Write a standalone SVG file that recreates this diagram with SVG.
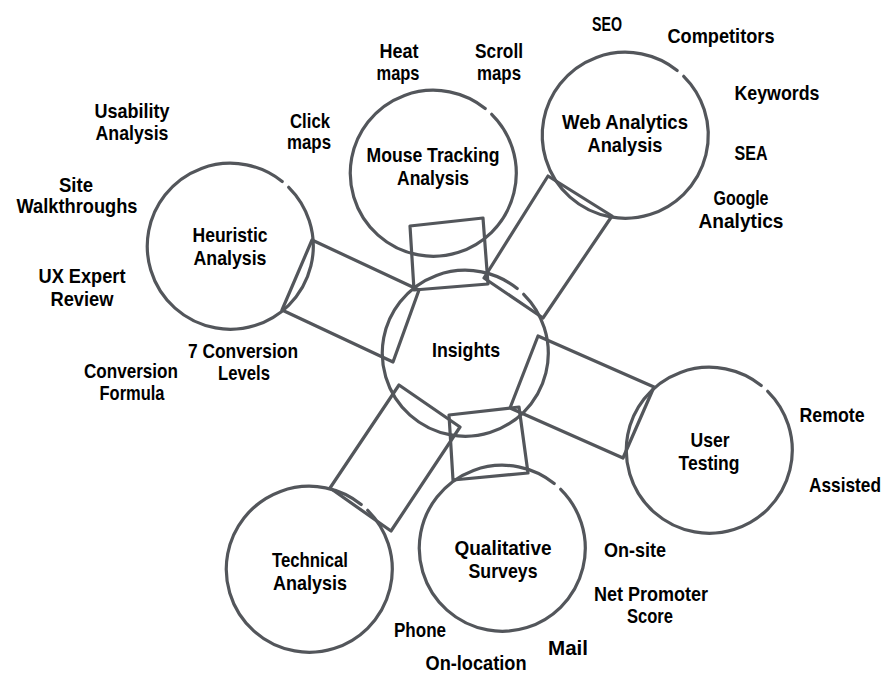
<svg xmlns="http://www.w3.org/2000/svg" xmlns:xlink="http://www.w3.org/1999/xlink" width="896" height="690" viewBox="0 0 896 690">
<style>
  .ring{fill:none;stroke:#53565b;stroke-width:3.2;stroke-linecap:round}
  .band{fill:none;stroke:#53565b;stroke-width:3.2;stroke-linejoin:round}
  text{font-family:"Liberation Sans",Arial,sans-serif;font-weight:bold;font-size:21px;fill:#000;text-anchor:middle}
</style>
<defs>
  <path id="ring" class="ring" d="M58.7,-58.7 A83,83 0 1 1 52.2,-64.5"/>
</defs>
<rect width="896" height="690" fill="#fff"/>
<g id="connectors">
  <polygon class="band" points="312,240 419,290 393,362 282,310"/>
  <polygon class="band" points="410,226 483,218 488,284 414,290"/>
  <polygon class="band" points="548,176 612,216 543,318 484,278"/>
  <polygon class="band" points="538,336 654,387 623,458 510,408"/>
  <polygon class="band" points="449,415 519,407 528,473 453,480"/>
  <polygon class="band" points="399,385 460,427 391,531 330,488"/>
</g>
<g id="insights"><use xlink:href="#ring" x="465" y="353"/><text x="466" y="357" textLength="68" lengthAdjust="spacingAndGlyphs">Insights</text></g>
<g id="heuristic"><use xlink:href="#ring" x="230" y="246"/><text x="230" y="242" textLength="75" lengthAdjust="spacingAndGlyphs">Heuristic</text><text x="230" y="265" textLength="73" lengthAdjust="spacingAndGlyphs">Analysis</text></g>
<g id="mouse-tracking"><use xlink:href="#ring" x="433" y="173"/><text x="433" y="162" textLength="133" lengthAdjust="spacingAndGlyphs">Mouse Tracking</text><text x="433" y="185" textLength="72" lengthAdjust="spacingAndGlyphs">Analysis</text></g>
<g id="web-analytics"><use xlink:href="#ring" x="625" y="135"/><text x="625" y="129" textLength="126" lengthAdjust="spacingAndGlyphs">Web Analytics</text><text x="625" y="152" textLength="75" lengthAdjust="spacingAndGlyphs">Analysis</text></g>
<g id="user-testing"><use xlink:href="#ring" x="709" y="450"/><text x="710" y="447" textLength="39" lengthAdjust="spacingAndGlyphs">User</text><text x="709" y="470" textLength="61" lengthAdjust="spacingAndGlyphs">Testing</text></g>
<g id="qualitative"><use xlink:href="#ring" x="502" y="548"/><text x="503" y="555" textLength="97" lengthAdjust="spacingAndGlyphs">Qualitative</text><text x="503" y="578" textLength="69" lengthAdjust="spacingAndGlyphs">Surveys</text></g>
<g id="technical"><use xlink:href="#ring" x="309" y="569"/><text x="310" y="567" textLength="76" lengthAdjust="spacingAndGlyphs">Technical</text><text x="310" y="590" textLength="74" lengthAdjust="spacingAndGlyphs">Analysis</text></g>
<g id="labels">
  <text x="132" y="118" textLength="75" lengthAdjust="spacingAndGlyphs">Usability</text><text x="132" y="140" textLength="73" lengthAdjust="spacingAndGlyphs">Analysis</text>
  <text x="76" y="192" textLength="34" lengthAdjust="spacingAndGlyphs">Site</text><text x="77" y="213" textLength="121" lengthAdjust="spacingAndGlyphs">Walkthroughs</text>
  <text x="82" y="283" textLength="87" lengthAdjust="spacingAndGlyphs">UX Expert</text><text x="82" y="306" textLength="63" lengthAdjust="spacingAndGlyphs">Review</text>
  <text x="131" y="378" textLength="94" lengthAdjust="spacingAndGlyphs">Conversion</text><text x="132" y="400" textLength="65" lengthAdjust="spacingAndGlyphs">Formula</text>
  <text x="243" y="358" textLength="110" lengthAdjust="spacingAndGlyphs">7 Conversion</text><text x="244" y="380" textLength="52" lengthAdjust="spacingAndGlyphs">Levels</text>
  <text x="310" y="128" textLength="40" lengthAdjust="spacingAndGlyphs">Click</text><text x="309" y="149" textLength="44" lengthAdjust="spacingAndGlyphs">maps</text>
  <text x="399" y="58" textLength="39" lengthAdjust="spacingAndGlyphs">Heat</text><text x="398" y="80" textLength="43" lengthAdjust="spacingAndGlyphs">maps</text>
  <text x="499" y="58" textLength="48" lengthAdjust="spacingAndGlyphs">Scroll</text><text x="499" y="80" textLength="44" lengthAdjust="spacingAndGlyphs">maps</text>
  <text x="607" y="31" textLength="30" lengthAdjust="spacingAndGlyphs">SEO</text>
  <text x="721" y="43" textLength="107" lengthAdjust="spacingAndGlyphs">Competitors</text>
  <text x="777" y="100" textLength="85" lengthAdjust="spacingAndGlyphs">Keywords</text>
  <text x="751" y="160" textLength="33" lengthAdjust="spacingAndGlyphs">SEA</text>
  <text x="741" y="205" textLength="55" lengthAdjust="spacingAndGlyphs">Google</text><text x="741" y="228" textLength="85" lengthAdjust="spacingAndGlyphs">Analytics</text>
  <text x="832" y="422" textLength="65" lengthAdjust="spacingAndGlyphs">Remote</text>
  <text x="845" y="492" textLength="72" lengthAdjust="spacingAndGlyphs">Assisted</text>
  <text x="635" y="557" textLength="62" lengthAdjust="spacingAndGlyphs">On-site</text>
  <text x="651" y="601" textLength="114" lengthAdjust="spacingAndGlyphs">Net Promoter</text><text x="650" y="623" textLength="46" lengthAdjust="spacingAndGlyphs">Score</text>
  <text x="420" y="637" textLength="52" lengthAdjust="spacingAndGlyphs">Phone</text>
  <text x="476" y="670" textLength="101" lengthAdjust="spacingAndGlyphs">On-location</text>
  <text x="568" y="655" textLength="40" lengthAdjust="spacingAndGlyphs">Mail</text>
</g>
</svg>
